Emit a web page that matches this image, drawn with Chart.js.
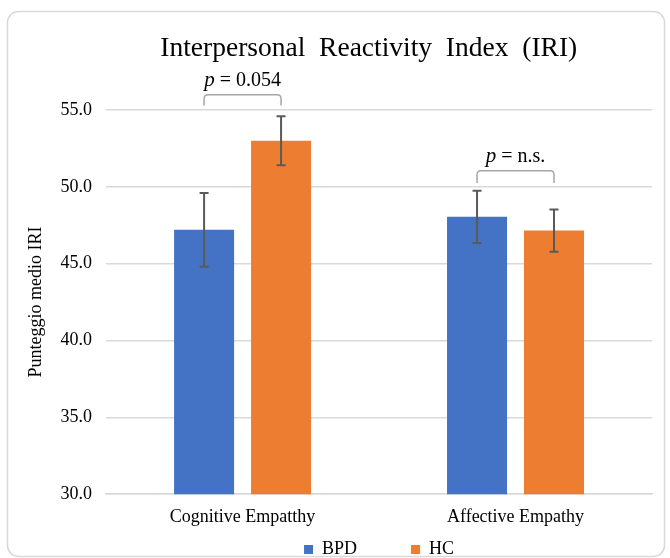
<!DOCTYPE html>
<html>
<head>
<meta charset="utf-8">
<title>Interpersonal Reactivity Index (IRI)</title>
<script src="https://cdn.jsdelivr.net/npm/chart.js@4.4.1/dist/chart.umd.min.js"></script>
<style>
  html, body { margin: 0; padding: 0; background: #ffffff; }
  #wrap { width: 670px; height: 558px; position: relative; }
</style>
</head>
<body>
<div id="wrap"><canvas id="chart" width="670" height="558"></canvas></div>
<script>
// Categories and group means (IRI subscale scores)
const categories = ['Cognitive Empatthy', 'Affective Empathy'];
const seriesNames = ['BPD', 'HC'];
const bpdMeans = [47.2, 48.05];
const hcMeans = [53.0, 47.15];
// Half-length of each error bar (same units as the means)
const bpdErrors = [2.4, 1.7];
const hcErrors = [1.6, 1.37];
// Significance labels for each category comparison
const pLabels = ['= 0.054', '= n.s.'];
const yTicks = [30, 35, 40, 45, 50, 55];

const serif = '"Liberation Serif", "Times New Roman", serif';
const EN_SPACE = '\u2002';

// Rounded card frame behind the chart
const cardFrame = {
  id: 'cardFrame',
  beforeDraw(chart) {
    const ctx = chart.ctx;
    ctx.save();
    ctx.fillStyle = '#ffffff';
    ctx.fillRect(0, 0, chart.width, chart.height);
    ctx.beginPath();
    ctx.roundRect(7.5, 11.5, 657, 545, 11);
    ctx.lineWidth = 1.5;
    ctx.strokeStyle = '#d9d9d9';
    ctx.stroke();
    ctx.restore();
  }
};

// Symmetric error bars drawn from the error arrays
const errorBars = {
  id: 'errorBars',
  afterDatasetsDraw(chart, args, opts) {
    const ctx = chart.ctx;
    const y = chart.scales.y;
    ctx.save();
    ctx.strokeStyle = opts.color;
    ctx.lineWidth = opts.width;
    chart.data.datasets.forEach((ds, di) => {
      const meta = chart.getDatasetMeta(di);
      meta.data.forEach((bar, i) => {
        const v = ds.data[i];
        const e = ds.errors[i];
        const yTop = y.getPixelForValue(v + e);
        const yBot = y.getPixelForValue(v - e);
        const x = bar.x;
        ctx.beginPath();
        ctx.moveTo(x, yTop); ctx.lineTo(x, yBot);
        ctx.moveTo(x - opts.cap, yTop); ctx.lineTo(x + opts.cap, yTop);
        ctx.moveTo(x - opts.cap, yBot); ctx.lineTo(x + opts.cap, yBot);
        ctx.stroke();
      });
    });
    ctx.restore();
  }
};

// Brackets joining the two bars of a category, with the p label above
const sigBrackets = {
  id: 'sigBrackets',
  afterDatasetsDraw(chart, args, opts) {
    const ctx = chart.ctx;
    const y = chart.scales.y;
    const m0 = chart.getDatasetMeta(0);
    const m1 = chart.getDatasetMeta(1);
    ctx.save();
    opts.items.forEach((it, i) => {
      const x0 = m0.data[i].x;
      const x1 = m1.data[i].x;
      const yTop = y.getPixelForValue(it.top);
      const yBot = y.getPixelForValue(it.bottom);
      const r = 4;
      ctx.beginPath();
      ctx.moveTo(x0, yBot);
      ctx.lineTo(x0, yTop + r);
      ctx.quadraticCurveTo(x0, yTop, x0 + r, yTop);
      ctx.lineTo(x1 - r, yTop);
      ctx.quadraticCurveTo(x1, yTop, x1, yTop + r);
      ctx.lineTo(x1, yBot);
      ctx.strokeStyle = opts.color;
      ctx.lineWidth = 1.5;
      ctx.stroke();

      // label: italic "p" followed by the value text
      const pFont = 'italic 21px ' + serif;
      const restFont = '20px ' + serif;
      const rest = ' ' + pLabels[i];
      ctx.font = pFont;
      const wp = ctx.measureText('p').width;
      ctx.font = restFont;
      const wr = ctx.measureText(rest).width;
      const cx = (x0 + x1) / 2;
      const start = cx - (wp + wr) / 2;
      const base = yTop - it.gap;
      ctx.fillStyle = '#000000';
      ctx.textBaseline = 'alphabetic';
      ctx.textAlign = 'left';
      ctx.font = pFont;
      ctx.fillText('p', start, base);
      ctx.font = restFont;
      ctx.fillText(rest, start + wp, base);
    });
    ctx.restore();
  }
};

new Chart(document.getElementById('chart'), {
  type: 'bar',
  data: {
    labels: categories,
    datasets: [
      { label: seriesNames[0], data: bpdMeans, errors: bpdErrors,
        backgroundColor: '#4472C4', borderWidth: 0 },
      { label: seriesNames[1], data: hcMeans, errors: hcErrors,
        backgroundColor: '#ED7D31', borderWidth: 0 }
    ]
  },
  options: {
    responsive: false,
    animation: false,
    layout: { padding: { left: 11, right: 18, top: 22, bottom: -10.5 } },
    datasets: { bar: { categoryPercentage: 0.564, barPercentage: 0.78 } },
    scales: {
      x: {
        grid: { display: false, drawTicks: false },
        border: { display: true, color: '#d9d9d9', width: 1.5 },
        ticks: { color: '#000000', font: { family: serif, size: 18, lineHeight: 0.02 }, padding: 23 }
      },
      y: {
        min: 30, max: 55,
        afterBuildTicks(scale) { scale.ticks = yTicks.map(v => ({ value: v })); },
        grid: { color: '#d9d9d9', lineWidth: 1.5, drawTicks: false },
        border: { display: false },
        ticks: {
          color: '#000000', font: { family: serif, size: 18 }, padding: 14,
          callback: v => Number(v).toFixed(1)
        },
        title: {
          display: true, text: 'Punteggio medio IRI', color: '#000000',
          font: { family: serif, size: 18 }, padding: { top: 14, bottom: 0 }
        }
      }
    },
    plugins: {
      title: {
        display: true, fullSize: false,
        text: 'Interpersonal  Reactivity  Index  (IRI)' + '\u00a0\u00a0\u00a0',
        color: '#000000', font: { family: serif, size: 27.5, weight: 'normal' },
        padding: { top: 10, bottom: 45 }
      },
      legend: {
        position: 'bottom',
        fullSize: false,
        labels: {
          color: '#000000', font: { family: serif, size: 18 },
          boxWidth: 9, boxHeight: 9, padding: 0, useBorderRadius: false,
          // keep the two entries well apart, as a spreadsheet legend does
          generateLabels(chart) {
            const items = Chart.defaults.plugins.legend.labels.generateLabels(chart);
            items[0].text = items[0].text + EN_SPACE.repeat(6);
            return items;
          }
        }
      },
      tooltip: { enabled: false },
      errorBars: { color: '#5a5a5a', width: 2, cap: 4.5 },
      sigBrackets: {
        color: '#a6a6a6',
        items: [
          { bottom: 55.3, top: 56.0, gap: 9 },
          { bottom: 50.25, top: 51.05, gap: 9 }
        ]
      }
    }
  },
  plugins: [cardFrame, errorBars, sigBrackets]
});
</script>
</body>
</html>
